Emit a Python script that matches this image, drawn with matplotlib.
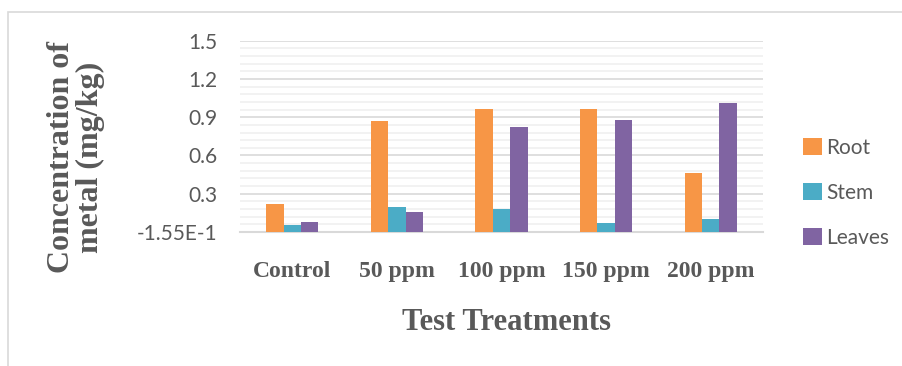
import matplotlib
matplotlib.use("Agg")
import numpy as np
from matplotlib import pyplot as plt
from matplotlib.patches import Rectangle
from matplotlib.ticker import FixedLocator, FixedFormatter, MultipleLocator

categories = ["Control", "50 ppm", "100 ppm", "150 ppm", "200 ppm"]
root = [0.22, 0.87, 0.965, 0.965, 0.463]
stem = [0.055, 0.196, 0.18, 0.07, 0.10]
leaves = [0.08, 0.157, 0.824, 0.878, 1.01]
series_names = ["Root", "Stem", "Leaves"]
ytick_values = [0.0, 0.3, 0.6, 0.9, 1.2, 1.5]
ytick_labels = ["-1.55E-1", "0.3", "0.6", "0.9", "1.2", "1.5"]

colors = ["#F79646", "#4BACC6", "#8064A2"]
grey = "#595959"
serif = "Liberation Serif"
sans = "Lato"

fig = plt.figure(figsize=(9.03, 3.66), dpi=100)
ax = fig.add_axes([240 / 903, 1 - 232 / 366, 523 / 903, 191.3 / 366])

# chart border like the Excel chart area
fig.patches.append(Rectangle((8 / 903, -0.1), 1.2, 1 - 12 / 366 + 0.1,
                             transform=fig.transFigure, fill=False,
                             edgecolor="#d9d9d9", linewidth=1.2))

x = np.arange(len(categories))
w = 1 / 6
for i, (vals, name) in enumerate(zip([root, stem, leaves], series_names)):
    ax.bar(x + (i - 1) * w, vals, width=w, color=colors[i], label=name, zorder=3)

ax.set_xlim(-0.5, len(categories) - 0.5)
ax.set_ylim(0, 1.5)
ax.yaxis.set_major_locator(FixedLocator(ytick_values))
ax.yaxis.set_major_formatter(FixedFormatter(ytick_labels))
ax.yaxis.set_minor_locator(MultipleLocator(0.06))
ax.grid(axis="y", which="major", color="#d9d9d9", linewidth=1.2, zorder=0)
ax.grid(axis="y", which="minor", color="#f0f0f0", linewidth=1.2, zorder=0)
ax.set_axisbelow(True)

ax.set_xticks(x)
ax.set_xticklabels(categories, fontfamily=serif, fontweight="bold", fontsize=17, color=grey)
ax.tick_params(axis="x", which="both", length=0, pad=21)
ax.tick_params(axis="y", which="both", length=0, pad=16, labelsize=15, labelcolor=grey)
for lab in ax.get_yticklabels():
    lab.set_fontfamily(sans)

for s in ["top", "right", "left"]:
    ax.spines[s].set_visible(False)
ax.spines["bottom"].set_color("#d9d9d9")
ax.spines["bottom"].set_linewidth(1.5)

fig.text(76 / 903, 1 - 157 / 366, "Concentration of\nmetal (mg/kg)", rotation=90,
         ha="center", va="center", fontfamily=serif, fontweight="bold", fontsize=23,
         color=grey, linespacing=1.0)
fig.text(507 / 903, 1 - 322 / 366, "Test Treatments", ha="center", va="center",
         fontfamily=serif, fontweight="bold", fontsize=22, color=grey)

leg = ax.legend(loc="center left", bbox_to_anchor=(803 / 903, 1 - 193 / 366),
                bbox_transform=fig.transFigure, frameon=False, borderpad=0,
                borderaxespad=0,
                prop={"family": sans, "size": 15}, handlelength=0.9, handleheight=0.9,
                handletextpad=0.2, labelspacing=1.2)
for t in leg.get_texts():
    t.set_color(grey)

fig.savefig("out.png", dpi=100)
